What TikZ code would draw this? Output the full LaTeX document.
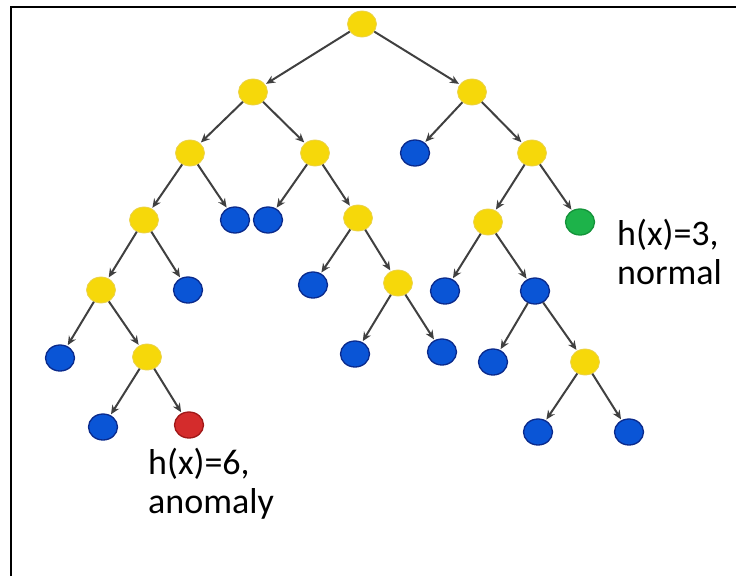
\documentclass[tikz,border=0pt]{standalone}
\usepackage{fontspec}
\setmainfont{Carlito}
\usepackage{xcolor}
\usepackage{tikz}
\usetikzlibrary{arrows.meta,shapes.geometric}

\definecolor{leafyellow}{HTML}{F6D80A}
\definecolor{leafyellowedge}{HTML}{EBD24A}
\definecolor{leafblue}{HTML}{0A55D6}
\definecolor{leafblueedge}{HTML}{0A2A8C}
\definecolor{leafgreen}{HTML}{1DB34A}
\definecolor{leafgreenedge}{HTML}{14933A}
\definecolor{leafred}{HTML}{D42C2C}
\definecolor{leafrededge}{HTML}{A01818}

\begin{document}
\begin{tikzpicture}[
    x=1pt, y=-1pt,
    split/.style={draw=leafyellowedge, fill=leafyellow, ellipse, line width=0.8pt, minimum width=29pt, minimum height=26pt, inner sep=0pt},
    leaf/.style={draw=leafblueedge, fill=leafblue, ellipse, line width=1.3pt, minimum width=29pt, minimum height=26pt, inner sep=0pt},
    normalleaf/.style={leaf, draw=leafgreenedge, fill=leafgreen},
    oddleaf/.style={leaf, draw=leafrededge, fill=leafred},
    flow/.style={-{Stealth[length=9pt, width=8pt]}, line width=2pt, draw=black!75, shorten >=1pt},
    note/.style={align=left, anchor=base west, inner sep=0pt, font=\fontsize{36}{39}\selectfont}
]
\useasboundingbox (0,0) rectangle (736,576);
\draw[line width=2.5pt] (11,576) -- (11,7) -- (736,7);

% depth 0-2
\node[split] (root) at (362,24) {};
\node[split] (L) at (253,92) {};
\node[split] (R) at (472,92) {};
\node[split] (LL) at (190,153) {};
\node[split] (LR) at (315,153) {};
\node[leaf] (RL) at (415,153) {};
\node[split] (RR) at (532,153) {};

% depth 3
\node[split] (LLL) at (144,220) {};
\node[leaf] (LLR) at (235,220) {};
\node[leaf] (LRL) at (268,220) {};
\node[split] (LRR) at (358,218) {};
\node[split] (RRL) at (488,222) {};
\node[normalleaf] (RRR) at (580,222) {};

% depth 4
\node[split] (LLLL) at (101,290) {};
\node[leaf] (LLLR) at (188,290) {};
\node[leaf] (LRRL) at (313,285) {};
\node[split] (LRRR) at (398,283) {};
\node[leaf] (RRLL) at (445,291) {};
\node[leaf] (RRLR) at (535,291) {};

% depth 5
\node[leaf] (LLLLL) at (60,358) {};
\node[split] (LLLLR) at (147,357) {};
\node[leaf] (LRRRL) at (355,354) {};
\node[leaf] (LRRRR) at (442,352) {};
\node[leaf] (RRLRL) at (493,362) {};
\node[split] (RRLRR) at (585,362) {};

% depth 6
\node[leaf] (LLLLRL) at (103,427) {};
\node[oddleaf] (LLLLRR) at (189,425) {};
\node[leaf] (RRLRRL) at (538,432) {};
\node[leaf] (RRLRRR) at (629,432) {};

% path lengths
\node[note] (normallabel) at (617,284) {h(x)=3,\\normal};
\node[note] (anomalylabel) at (148,513) {h(x)=6,\\anomaly};

\draw[flow] (root) -- (L);
\draw[flow] (root) -- (R);
\draw[flow] (L) -- (LL);
\draw[flow] (L) -- (LR);
\draw[flow] (R) -- (RL);
\draw[flow] (R) -- (RR);
\draw[flow] (LL) -- (LLL);
\draw[flow] (LL) -- (LLR);
\draw[flow] (LR) -- (LRL);
\draw[flow] (LR) -- (LRR);
\draw[flow] (RR) -- (RRL);
\draw[flow] (RR) -- (RRR);
\draw[flow] (LLL) -- (LLLL);
\draw[flow] (LLL) -- (LLLR);
\draw[flow] (LRR) -- (LRRL);
\draw[flow] (LRR) -- (LRRR);
\draw[flow] (RRL) -- (RRLL);
\draw[flow] (RRL) -- (RRLR);
\draw[flow] (LLLL) -- (LLLLL);
\draw[flow] (LLLL) -- (LLLLR);
\draw[flow] (LRRR) -- (LRRRL);
\draw[flow] (LRRR) -- (LRRRR);
\draw[flow] (RRLR) -- (RRLRL);
\draw[flow] (RRLR) -- (RRLRR);
\draw[flow] (LLLLR) -- (LLLLRL);
\draw[flow] (LLLLR) -- (LLLLRR);
\draw[flow] (RRLRR) -- (RRLRRL);
\draw[flow] (RRLRR) -- (RRLRRR);
\end{tikzpicture}
\end{document}
